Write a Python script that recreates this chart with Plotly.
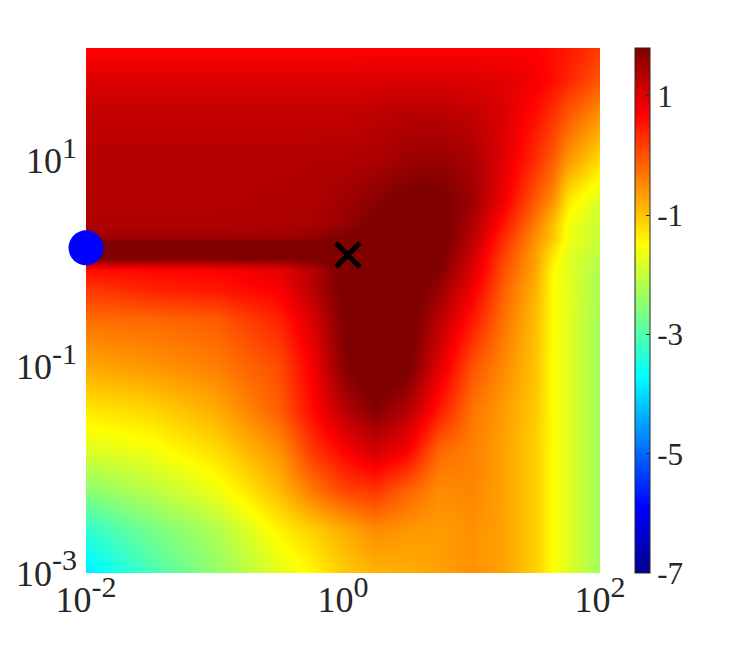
import plotly.graph_objects as go

x_vals = [0.01, 0.0316, 0.1, 0.316, 0.562, 1, 1.78, 3.16, 5.62, 10, 17.8, 31.6, 42.7, 56.2, 100]
y_vals = [0.001, 0.0026, 0.0064, 0.0155, 0.038, 0.1, 0.28, 0.55, 0.86, 1.12, 1.41, 1.76, 2.35, 4.1, 10, 30.5, 59.6, 120]

r_0001 = [-3.9, -3.1, -2.45, -1.75, -1.45, -1.05, -0.85, -0.8, -0.7, -0.55, -0.7, -1.1, -1.5, -1.75, -2.3]
r_0026 = [-3.3, -2.7, -2.2, -1.4, -1.1, -0.8, -0.5, -0.6, -0.65, -0.55, -0.7, -1.1, -1.5, -1.75, -2.3]
r_0064 = [-2.5, -2.1, -1.65, -0.9, -0.35, 0.1, 0.25, -0.15, -0.5, -0.45, -0.7, -1.1, -1.5, -1.75, -2.3]
r_0155 = [-1.8, -1.6, -1.2, -0.55, 0.2, 0.7, 1.1, 0.75, -0.2, -0.4, -0.7, -1.1, -1.5, -1.75, -2.3]
r_038 = [-1.3, -1.15, -0.8, -0.1, 0.6, 1.3, 1.75, 1.35, 0.5, -0.3, -0.65, -1.05, -1.5, -1.75, -2.3]
r_1 = [-0.75, -0.6, -0.4, 0.05, 0.75, 1.7, 2.2, 1.9, 0.95, 0.0, -0.5, -1.0, -1.5, -1.75, -2.3]
r_28 = [-0.25, -0.2, -0.1, 0.4, 1.0, 1.8, 2.1, 2.0, 1.3, 0.5, -0.3, -0.95, -1.5, -1.75, -2.3]
r_55 = [0.2, 0.4, 0.5, 0.75, 1.3, 1.85, 2.0, 2.0, 1.6, 0.8, -0.15, -0.85, -1.5, -1.75, -2.25]
r_86 = [0.6, 0.65, 0.7, 0.9, 1.3, 1.9, 2.0, 2.0, 1.8, 1.0, 0.0, -0.75, -1.45, -1.75, -2.2]
r_112 = [1.8, 1.8, 1.8, 1.8, 1.85, 2.05, 2.1, 2.1, 1.9, 1.1, 0.1, -0.7, -1.35, -1.75, -2.1]
r_141 = [2.4, 2.4, 2.4, 2.4, 2.4, 2.3, 2.1, 2.1, 1.95, 1.2, 0.2, -0.65, -1.2, -1.7, -2.05]
r_176 = [1.55, 1.55, 1.55, 1.55, 1.6, 1.85, 2.0, 2.1, 2.0, 1.3, 0.3, -0.55, -1.0, -1.6, -2.0]
r_235 = [1.38, 1.38, 1.38, 1.42, 1.45, 1.6, 1.85, 2.0, 1.95, 1.4, 0.5, -0.4, -0.95, -1.6, -2.0]
r_41 = [1.35, 1.35, 1.35, 1.38, 1.4, 1.5, 1.7, 1.9, 1.9, 1.55, 0.8, -0.1, -0.55, -1.3, -1.85]
r_10 = [1.35, 1.35, 1.35, 1.35, 1.36, 1.38, 1.42, 1.55, 1.6, 1.45, 0.95, 0.3, -0.1, -0.6, -1.2]
r_305 = [1.2, 1.2, 1.2, 1.2, 1.2, 1.2, 1.25, 1.3, 1.3, 1.2, 1.0, 0.6, 0.3, 0.0, -0.5]
r_596 = [1.0, 1.0, 1.0, 1.0, 1.0, 1.0, 1.0, 1.0, 1.0, 1.0, 0.95, 0.78, 0.6, 0.4, -0.05]
r_120 = [0.7, 0.7, 0.7, 0.7, 0.7, 0.7, 0.72, 0.72, 0.72, 0.72, 0.72, 0.7, 0.6, 0.5, 0.2]
z_rows = [r_0001, r_0026, r_0064, r_0155, r_038, r_1, r_28, r_55, r_86, r_112, r_141, r_176, r_235, r_41, r_10, r_305, r_596, r_120]

SUP = '<sup><span style="font-size:30px">%s</span></sup>'
x_ticks = [0.01, 1, 100]
x_labels = ["10" + SUP % "-2", "10" + SUP % "0", "10" + SUP % "2"]
y_ticks = [0.001, 0.1, 10]
y_labels = ["10" + SUP % "-3", "10" + SUP % "-1", "10" + SUP % "1"]
cbar_ticks = [1, -1, -3, -5, -7]
start_pt = ([0.01], [1.41])
end_pt = ([1.09], [1.2])

jet = [[0, "rgb(0,0,143)"], [0.125, "rgb(0,0,255)"], [0.375, "rgb(0,255,255)"],
       [0.625, "rgb(255,255,0)"], [0.875, "rgb(255,0,0)"], [1, "rgb(128,0,0)"]]

FONT = "Liberation Serif"
TXT = "#262626"

fig = go.Figure()
fig.add_trace(go.Heatmap(
    x=x_vals, y=y_vals, z=z_rows, zmin=-7, zmax=1.8, zsmooth="best",
    colorscale=jet,
    colorbar=dict(
        x=1.068, xanchor="left", y=0, yanchor="bottom", len=1, lenmode="fraction",
        thickness=15, thicknessmode="pixels", outlinewidth=1, outlinecolor="#262626",
        tickmode="array", tickvals=cbar_ticks, ticktext=[str(v) for v in cbar_ticks],
        ticks="inside", ticklen=4, tickcolor="#262626", tickwidth=1,
        tickfont=dict(family=FONT, size=31, color=TXT), xpad=0, ypad=0,
    ),
))
fig.add_trace(go.Scatter(x=start_pt[0], y=start_pt[1], mode="markers", cliponaxis=False,
                         marker=dict(symbol="circle", size=35, color="#0000ff"), showlegend=False))
fig.add_trace(go.Scatter(x=end_pt[0], y=end_pt[1], mode="markers", cliponaxis=False,
                         marker=dict(symbol="x-thin", size=24, color="#000000",
                                     line=dict(width=5, color="#000000")), showlegend=False))
fig.update_layout(
    width=717, height=629, margin=dict(l=78, r=125, t=40, b=64, pad=0, autoexpand=False),
    paper_bgcolor="white", plot_bgcolor="white", showlegend=False,
    xaxis=dict(type="log", range=[-2, 2], tickmode="array", tickvals=x_ticks, ticktext=x_labels,
               showgrid=False, zeroline=False, showline=False, ticks="",
               tickangle=0, ticklabelstandoff=2, tickfont=dict(family=FONT, size=36, color=TXT)),
    yaxis=dict(type="log", range=[-3, 2.085], tickmode="array", tickvals=y_ticks, ticktext=y_labels,
               showgrid=False, zeroline=False, showline=False, ticks="",
               ticklabelstandoff=8, tickfont=dict(family=FONT, size=36, color=TXT)),
)
fig.write_html("out.html")
